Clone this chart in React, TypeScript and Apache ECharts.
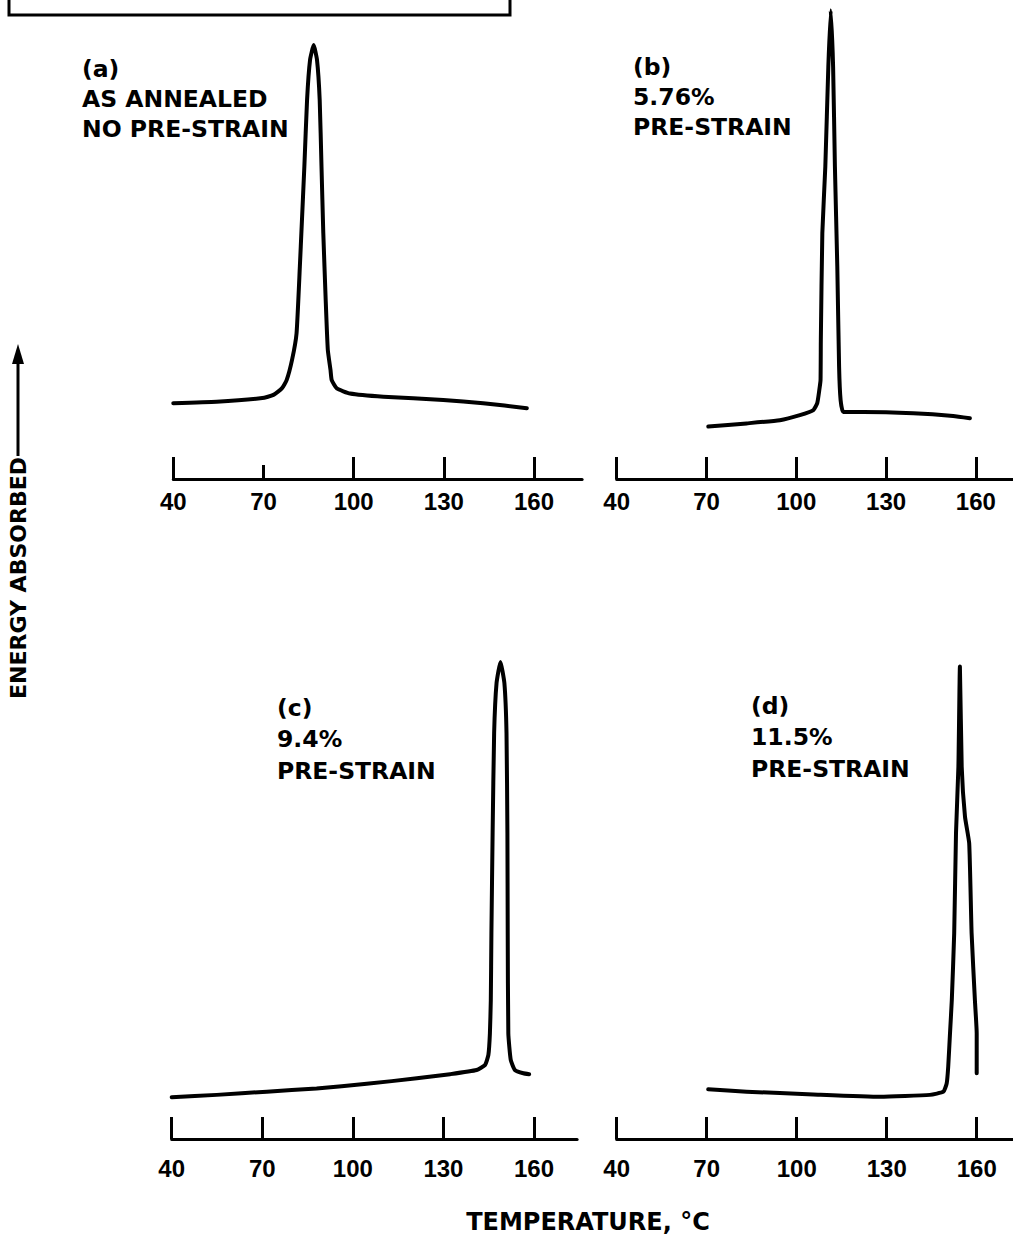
import React, { useEffect, useRef } from "react";
import * as echarts from "echarts";

// Tick labels shared by all four panels (temperature, °C)
const tickValues = [40, 70, 100, 130, 160];
// panel (a) draws its 70 °C tick shorter than the others
const shortTickA = [70];
const longTicksA = [40, 100, 130, 160];

// (a) AS ANNEALED, NO PRE-STRAIN
const tempA = [40.0, 54.4, 69.6, 73.3, 76.1, 77.7, 79.5, 81.0, 82.1, 82.7, 83.6, 84.5, 85.5, 86.7, 87.8, 88.7, 89.3, 89.9, 90.7, 91.4, 92.3, 92.7, 94.4, 98.8, 109.9, 129.8, 143.1, 157.6];
const energyA = [16.5, 16.8, 17.6, 18.3, 19.7, 21.5, 25.9, 31.7, 46.2, 54.9, 68.0, 82.5, 91.2, 94.4, 91.2, 82.5, 68.0, 53.5, 38.9, 28.1, 23.7, 21.5, 19.7, 18.6, 17.9, 17.2, 16.5, 15.4];

// (b) 5.76% PRE-STRAIN
const tempB = [70.6, 83.4, 94.5, 101.2, 105.7, 107.0, 107.7, 108.1, 108.2, 108.7, 109.7, 110.7, 111.5, 112.3, 112.9, 113.7, 114.3, 114.8, 115.7, 122.4, 139.1, 152.4, 158.0];
const energyB = [11.4, 12.1, 12.8, 13.9, 15.0, 16.5, 19.4, 21.5, 30.3, 53.5, 68.0, 89.7, 102.0, 89.7, 68.0, 46.2, 24.4, 17.2, 14.6, 14.6, 14.3, 13.7, 13.2];

// (c) 9.4% PRE-STRAIN
const tempC = [40.0, 54.9, 71.5, 88.0, 104.6, 121.2, 132.2, 141.0, 143.8, 144.9, 145.4, 145.7, 145.9, 146.3, 146.8, 147.6, 148.9, 150.2, 150.9, 151.2, 151.3, 151.5, 152.3, 153.7, 156.5, 158.4];
const energyC = [9.1, 9.6, 10.3, 11.0, 12.0, 13.2, 14.1, 15.0, 16.1, 18.3, 23.0, 30.2, 44.8, 66.6, 88.3, 99.2, 103.8, 99.2, 88.3, 66.6, 44.8, 23.0, 17.2, 15.0, 14.3, 14.1];

// (d) 11.5% PRE-STRAIN
const tempD = [70.5, 83.3, 105.5, 127.8, 144.4, 148.9, 150.0, 150.5, 151.1, 151.7, 152.5, 153.1, 153.9, 154.4, 155.0, 156.1, 157.5, 158.3, 159.4, 160.0, 160.0];
const energyD = [10.8, 10.3, 9.7, 9.2, 9.6, 10.3, 12.1, 15.7, 23.0, 30.2, 44.8, 66.5, 81.0, 102.8, 81.0, 70.1, 64.3, 44.8, 30.2, 23.0, 14.3];

// Panel annotations
const labelA = ["(a)", "AS ANNEALED", "NO PRE-STRAIN"];
const labelB = ["(b)", "5.76%", "PRE-STRAIN"];
const labelC = ["(c)", "9.4%", "PRE-STRAIN"];
const labelD = ["(d)", "11.5%", "PRE-STRAIN"];

const xTitle = "TEMPERATURE, °C";
const yTitle = "ENERGY ABSORBED";

// axis extents (temperature at which each drawn axis line ends)
const xMaxA = 176.0;
const xMaxB = 172.4;
const xMaxC = 174.3;
const xMaxD = 172.1;

const BOLD = "DejaVu Sans";
const TICKFONT = "Liberation Sans";

function zip(xs: number[], ys: number[]) {
  return xs.map((x, i) => [x, ys[i]]);
}

export default function App() {
  const ref = useRef<HTMLDivElement>(null);

  useEffect(() => {
    if (!ref.current) return;
    const chart = echarts.init(ref.current, null, { renderer: "svg" });

    const grids = [
      { left: 173.3, top: 1, width: (xMaxA - 40) * 3.006, height: 478 },
      { left: 616.7, top: 1, width: (xMaxB - 40) * 2.994, height: 478 },
      { left: 171.7, top: 661, width: (xMaxC - 40) * 3.019, height: 478 },
      { left: 616.7, top: 661, width: (xMaxD - 40) * 3.0, height: 478 },
    ];
    const maxes = [xMaxA, xMaxB, xMaxC, xMaxD];
    const margins = [10, 10, 17, 17];
    const tickSets = [longTicksA, tickValues, tickValues, tickValues];

    const labelStyle = {
      color: "#000",
      fontFamily: TICKFONT,
      fontWeight: "bold",
      fontSize: 24,
    };

    const xAxes: any[] = grids.map((_, i) => ({
      type: "value",
      gridIndex: i,
      min: 40,
      max: maxes[i],
      axisLine: { show: true, onZero: false, lineStyle: { color: "#000", width: 3 } },
      axisTick: {
        show: true,
        inside: true,
        length: 22,
        customValues: tickSets[i],
        lineStyle: { color: "#000", width: 3 },
      },
      axisLabel: {
        show: true,
        customValues: tickValues,
        margin: margins[i],
        ...labelStyle,
      },
      splitLine: { show: false },
    }));
    // extra axis on panel (a) for its short 70 tick
    xAxes.push({
      type: "value",
      gridIndex: 0,
      position: "bottom",
      min: 40,
      max: xMaxA,
      axisLine: { show: false },
      axisTick: {
        show: true,
        inside: true,
        length: 14,
        customValues: shortTickA,
        lineStyle: { color: "#000", width: 3 },
      },
      axisLabel: { show: false },
      splitLine: { show: false },
    });

    const yAxes = grids.map((_, i) => ({
      type: "value",
      gridIndex: i,
      min: 0,
      max: 104,
      show: false,
      splitLine: { show: false },
    }));

    const datasets = [
      zip(tempA, energyA),
      zip(tempB, energyB),
      zip(tempC, energyC),
      zip(tempD, energyD),
    ];

    const series = datasets.map((d, i) => ({
      type: "line",
      xAxisIndex: i,
      yAxisIndex: i,
      data: d,
      showSymbol: false,
      smooth: 0.15,
      clip: false,
      lineStyle: { color: "#000", width: 4, cap: "round", join: "round" },
    }));

    const panelText = (lines: string[], x: number, y: number, lh: number) => ({
      type: "text",
      left: x,
      top: y,
      style: {
        text: lines.join("\n"),
        fill: "#000",
        font: `bold 23.5px "${BOLD}"`,
        lineHeight: lh,
      },
    });

    const graphic = [
      // remnant caption box at the top
      {
        type: "rect",
        shape: { x: 9, y: -10, width: 501, height: 25 },
        style: { fill: "none", stroke: "#000", lineWidth: 3 },
      },
      panelText(labelA, 82, 54, 30),
      panelText(labelB, 633, 52, 30),
      panelText(labelC, 277, 692, 31.5),
      panelText(labelD, 751, 690, 31.5),
      {
        type: "text",
        x: 18,
        y: 578,
        rotation: Math.PI / 2,
        style: {
          text: yTitle,
          fill: "#000",
          font: `bold 22px "${BOLD}"`,
          textAlign: "center",
          textVerticalAlign: "middle",
        },
      },
      {
        type: "line",
        shape: { x1: 18, y1: 456, x2: 18, y2: 358 },
        style: { stroke: "#000", lineWidth: 3 },
      },
      {
        type: "polygon",
        shape: { points: [[18, 344], [12, 364], [24, 364]] },
        style: { fill: "#000" },
      },
      {
        type: "text",
        x: 588,
        y: 1222,
        style: {
          text: xTitle,
          fill: "#000",
          font: `bold 24px "${BOLD}"`,
          textAlign: "center",
          textVerticalAlign: "middle",
        },
      },
    ];

    chart.setOption({
      animation: false,
      backgroundColor: "#fff",
      grid: grids,
      xAxis: xAxes,
      yAxis: yAxes,
      series,
      graphic,
    } as any);

    return () => chart.dispose();
  }, []);

  return (
    <div
      ref={ref}
      style={{ position: "absolute", left: 0, top: 0, width: 1013, height: 1238, background: "#fff" }}
    />
  );
}
